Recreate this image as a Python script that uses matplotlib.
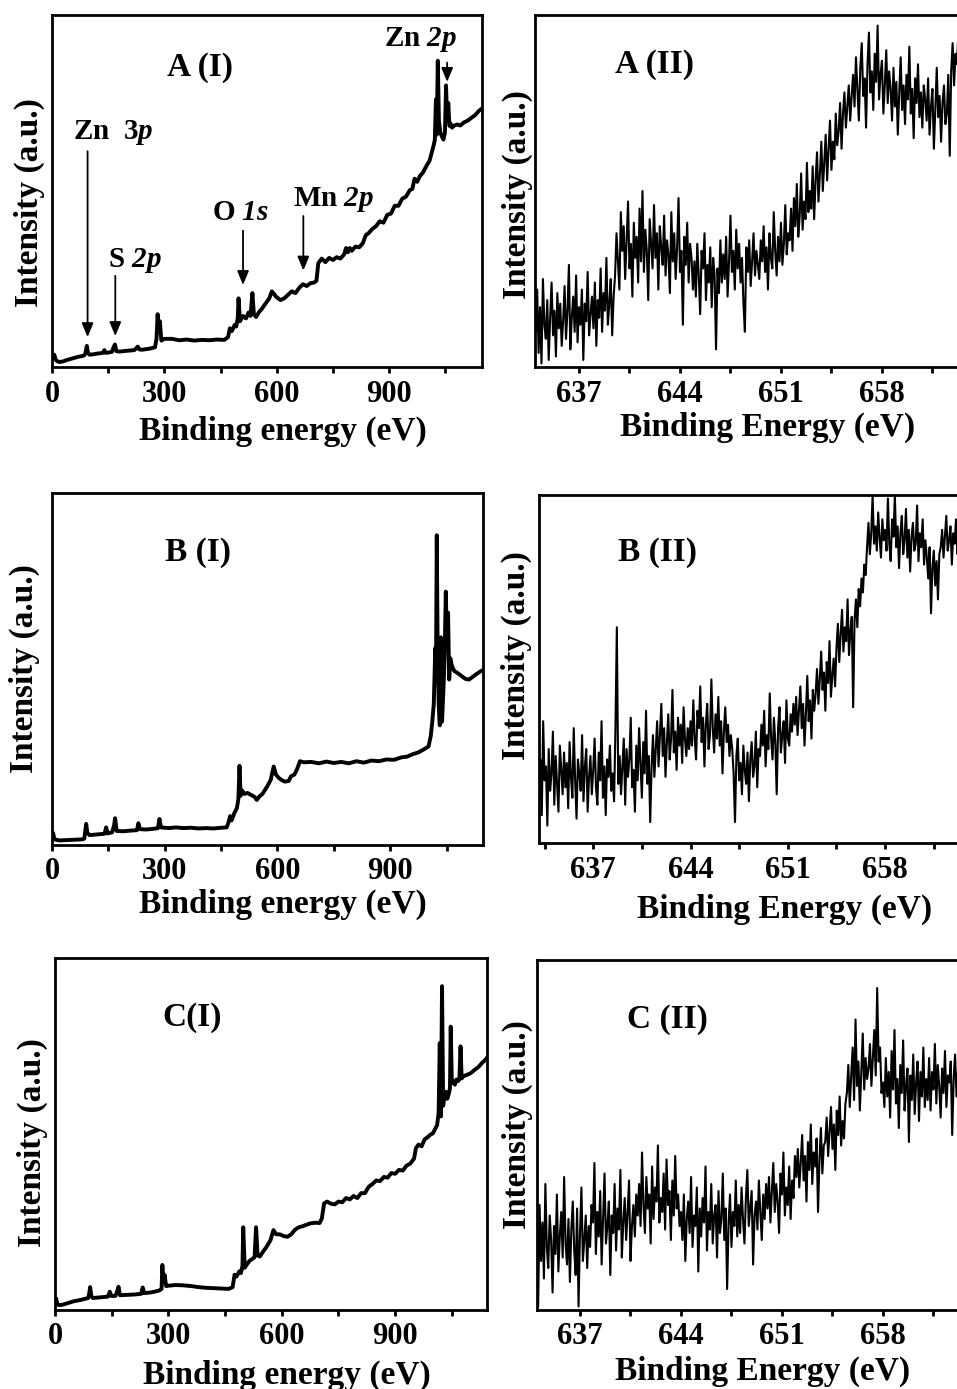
"""
XPS survey spectra (I) and Mn 2p region (II) for three samples
"""
import numpy as np
import matplotlib
matplotlib.use('Agg')
import matplotlib.pyplot as plt
from matplotlib.ticker import MultipleLocator, NullLocator

plt.rcParams['font.family'] = 'Liberation Serif'
plt.rcParams['font.weight'] = 'bold'
plt.rcParams['axes.labelweight'] = 'bold'
plt.rcParams['mathtext.fontset'] = 'custom'
plt.rcParams['mathtext.rm'] = 'Liberation Serif:bold:italic'
plt.rcParams['mathtext.it'] = 'Liberation Serif:bold:italic'

# ---- survey spectra (binding energy in eV, intensity in a.u.) ----
survey_a_ev = [0, 3, 6, 10, 15, 20, 30, 40, 50, 60, 70, 80, 86, 89, 93, 96, 100,
               110, 120, 135, 140, 143, 150, 160, 164, 168, 172, 180, 200, 220,
               229, 233, 240, 260, 275, 279, 282, 285, 288, 292, 300, 320, 340,
               360, 380, 400, 420, 440, 460, 470, 475, 480, 488, 492, 496, 498,
               502, 510, 518, 525, 530, 535, 539, 545, 552, 560, 570, 580, 587,
               591, 598, 610, 620, 630, 640, 650, 660, 670, 680, 690, 700, 706,
               711, 720, 730, 740, 750, 760, 770, 780, 785, 790, 795, 800, 810,
               820, 830, 838, 845, 855, 865, 875, 885, 895, 905, 915, 925, 935,
               945, 955, 962, 968, 975, 982, 990, 1000, 1008, 1014, 1019, 1022,
               1025, 1027, 1030, 1033, 1037, 1041, 1045, 1049, 1052, 1055, 1058,
               1061, 1064, 1068, 1074, 1082, 1090, 1100, 1110, 1120, 1130, 1140,
               1150]
survey_a_int = [3.0, 2.5, 3.5, 2.0, 1.6, 1.4, 1.6, 2.0, 2.3, 2.6, 2.9, 3.1, 3.3,
                3.8, 6.0, 4.0, 3.5, 3.6, 3.8, 4.0, 4.8, 4.0, 4.1, 4.3, 5.5, 6.4,
                4.5, 4.4, 4.6, 4.8, 5.8, 5.0, 4.9, 5.2, 5.6, 8.0, 15.0, 10.0,
                13.0, 7.5, 8.0, 8.0, 7.6, 7.8, 7.5, 7.7, 7.6, 7.8, 7.7, 8.5,
                11.0, 10.2, 12.0, 11.5, 14.0, 19.5, 13.0, 14.5, 13.8, 15.5, 14.5,
                21.0, 15.0, 14.2, 15.5, 16.5, 18.0, 19.5, 21.5, 21.0, 20.0, 19.0,
                19.5, 20.5, 21.5, 21.0, 22.5, 23.5, 23.0, 23.8, 24.0, 24.5, 29.5,
                30.8, 29.8, 31.0, 30.4, 31.2, 30.8, 32.0, 33.8, 32.6, 33.8, 33.0,
                34.2, 34.0, 35.2, 37.5, 38.0, 39.2, 40.0, 41.4, 41.0, 43.2, 43.6,
                45.8, 45.8, 47.8, 48.4, 50.2, 50.6, 53.5, 52.6, 54.2, 55.2, 57.2,
                58.6, 61.0, 63.0, 64.5, 76.0, 66.0, 87.0, 70.0, 66.5, 65.5, 64.6,
                66.5, 80.0, 70.0, 75.0, 68.5, 69.2, 68.0, 68.6, 68.9, 68.6, 69.5,
                70.0, 70.8, 71.6, 72.8, 73.6]

survey_b_ev = [0, 3, 6, 10, 20, 40, 60, 80, 86, 88, 91, 94, 100, 120, 140, 144,
               148, 160, 165, 168, 172, 190, 210, 226, 230, 234, 250, 270, 282,
               286, 290, 310, 330, 350, 370, 390, 410, 430, 450, 465, 470, 474,
               478, 485, 492, 496, 499, 502, 506, 512, 520, 530, 540, 545, 552,
               560, 572, 582, 590, 596, 604, 612, 620, 630, 636, 645, 652, 660,
               670, 690, 710, 730, 750, 770, 790, 810, 830, 850, 870, 890, 910,
               930, 945, 960, 975, 990, 1002, 1008, 1012, 1016, 1018, 1020, 1022,
               1024, 1026, 1029, 1032, 1035, 1038, 1042, 1045, 1048, 1051, 1054,
               1057, 1060, 1064, 1070, 1080, 1090, 1100, 1110, 1120, 1130, 1140,
               1150]
survey_b_int = [2.5, 3.4, 1.8, 1.5, 1.3, 1.4, 1.5, 1.6, 1.8, 3.5, 6.0, 3.5, 2.8,
                3.0, 3.2, 5.0, 3.3, 3.6, 5.5, 7.6, 4.0, 3.9, 4.1, 4.2, 6.2, 4.5,
                4.4, 4.6, 4.8, 7.4, 5.0, 4.8, 5.0, 4.8, 4.9, 4.7, 4.8, 4.7, 4.9,
                5.0, 6.5, 8.2, 7.0, 9.0, 10.5, 13.0, 22.5, 14.0, 15.5, 14.5, 14.8,
                14.2, 13.6, 12.8, 13.8, 14.5, 16.5, 18.5, 22.3, 20.0, 19.0, 18.4,
                18.0, 18.2, 19.5, 20.0, 21.5, 23.8, 23.5, 23.6, 23.2, 23.7, 23.3,
                23.6, 23.2, 23.8, 23.4, 24.0, 23.8, 24.3, 24.2, 24.9, 25.1, 25.8,
                26.3, 27.2, 28.0, 31.0, 35.0, 40.0, 48.0, 56.0, 52.0, 88.0, 60.0,
                40.0, 34.0, 59.0, 35.0, 45.0, 54.0, 72.0, 58.0, 66.0, 47.0, 53.0,
                51.0, 49.5, 48.8, 48.0, 47.2, 47.0, 47.8, 48.6, 49.3, 49.8]

survey_c_ev = [0, 3, 6, 10, 20, 35, 50, 65, 80, 88, 91, 93, 96, 100, 120, 140,
               145, 149, 160, 165, 168, 172, 190, 210, 228, 232, 236, 255, 275,
               282, 284, 287, 290, 294, 300, 320, 340, 360, 380, 400, 420, 440,
               460, 470, 475, 480, 488, 492, 496, 498, 502, 508, 515, 522, 528,
               532, 536, 542, 550, 560, 570, 578, 585, 595, 605, 615, 625, 635,
               645, 655, 665, 675, 690, 700, 706, 712, 720, 730, 740, 750, 760,
               770, 780, 790, 800, 810, 820, 830, 840, 850, 860, 870, 880, 890,
               900, 910, 920, 930, 940, 950, 955, 962, 970, 978, 985, 993, 1000,
               1006, 1011, 1015, 1018, 1021, 1024, 1027, 1030, 1034, 1038, 1042,
               1045, 1047, 1050, 1054, 1058, 1062, 1066, 1070, 1073, 1076, 1080,
               1090, 1100, 1110, 1120, 1130, 1140, 1145]
survey_c_int = [3.0, 3.3, 1.6, 1.4, 1.5, 2.0, 2.5, 2.8, 3.2, 3.4, 5.0, 6.5, 4.0,
                3.4, 3.6, 3.8, 5.2, 4.0, 4.0, 5.5, 6.6, 4.2, 4.3, 4.4, 4.6, 6.4,
                4.8, 5.0, 5.5, 6.0, 12.8, 8.0, 10.0, 6.8, 6.9, 7.1, 7.0, 6.8,
                6.5, 6.3, 6.2, 6.1, 6.0, 6.5, 10.0, 9.5, 11.0, 10.5, 12.5, 23.5,
                12.0, 13.0, 14.0, 14.5, 15.0, 23.5, 15.5, 15.2, 16.5, 18.0, 19.8,
                22.7, 21.5, 21.5, 21.0, 20.8, 21.5, 22.8, 23.5, 23.8, 24.2, 24.6,
                24.8, 24.7, 26.0, 30.3, 30.8, 30.2, 30.0, 30.8, 30.6, 31.8, 31.4,
                32.4, 31.8, 33.2, 33.2, 35.0, 35.8, 36.8, 36.6, 37.8, 37.6, 38.9,
                38.7, 39.8, 39.6, 41.0, 41.6, 43.0, 46.0, 47.0, 46.5, 48.5, 49.0,
                49.8, 50.2, 51.5, 52.5, 56.0, 75.8, 55.0, 92.0, 58.0, 60.5, 62.0,
                60.0, 61.5, 63.0, 80.5, 64.5, 65.0, 64.0, 65.5, 65.0, 65.5, 74.9,
                65.8, 66.4, 66.8, 67.3, 68.2, 69.0, 70.2, 71.2, 72.0]

# ---- Mn 2p region, 0.1 eV steps ----
mn_step = 0.1
mn_a_start = 634.0
mn_a_int = [10, 22, 4, 17, 1, 25, 12, 8, 19, 2, 14, 24, 9, 16, 3, 21, 11, 18, 6, 13,
            23, 8, 16, 29, 5, 14, 20, 10, 26, 7, 17, 12, 22, 2, 18, 13, 27, 9, 15, 20,
            11, 24, 6, 19, 14, 28, 10, 21, 16, 31, 12, 18, 25, 9, 20,
            26, 38, 30, 22, 44, 33, 40, 25, 36, 47, 28, 35, 20, 41, 31,
            37, 24, 45, 30, 50, 27, 39, 33, 19, 42, 35, 28, 46, 31, 38, 22, 40, 34, 29, 43,
            26, 36, 32, 21, 44, 30, 38, 25, 34, 48, 27, 33, 12, 37, 29, 41, 24, 35, 31, 22,
            30, 20, 35, 26, 15, 33, 28, 38, 19, 29, 24, 34, 17, 31, 26, 5, 28, 21, 36, 24,
            32, 25, 37, 20, 30, 43, 27, 33, 22, 39, 28, 35, 24, 31, 18, 10, 34, 27, 36, 23,
            30, 38, 26, 33, 29,
            25, 36, 30, 40, 27, 34, 22, 38, 31, 28, 44, 33, 26, 37, 30, 41, 29, 35, 46, 32, 38,
            36, 45, 33, 48, 40, 52, 37, 43, 55, 39, 47, 42, 58, 44,
            50, 45, 57, 42, 53, 61, 47, 55, 64, 50,
            58, 66, 53, 62, 70, 56, 64, 59, 72, 63,
            67, 75, 62, 72, 78, 68, 74, 80, 70, 77,
            83, 74, 88, 79, 70, 85, 92, 77, 82, 68, 86, 95, 78, 84, 73, 89, 81, 97, 76, 83,
            87, 72, 80, 90, 75, 84,
            79, 70, 85, 74, 81, 66, 78, 88, 73, 80, 69, 83, 76, 91, 72, 79, 65, 82, 75, 86,
            71, 78, 68, 80,
            76, 70, 82, 66, 74, 79, 62, 73, 85, 71, 77, 64, 75, 80, 69, 72, 83, 60,
            84, 92, 80, 89, 86, 95, 82, 88, 91, 79, 87, 90, 85]

mn_b_start = 633.0
mn_b_int = [30, 12, 24, 8, 35, 18, 22, 5, 27, 15, 20, 32, 11, 25, 17, 9, 28, 21, 14, 26,
            16, 23, 10, 29, 19, 13, 33, 18, 7, 24, 20, 15, 31, 12, 22, 27, 9, 19, 25, 14,
            21, 30, 16, 11, 26, 18, 35, 13, 22, 8, 24, 19, 28, 15, 20, 12, 33, 62, 17, 25,
            14, 22, 30, 11, 27, 19, 24, 36, 16, 21, 9, 28, 18, 33, 23, 13, 29, 20, 38, 17,
            25, 6, 22, 31, 19,
            27, 35, 22, 31, 40, 25, 33, 19, 29, 37, 24, 30, 44, 26, 32, 21, 36, 28, 34, 23,
            39, 30, 25, 33, 27,
            35, 28, 41, 30, 24, 38, 33, 45, 29, 36, 22, 34, 40, 27, 31, 47, 33, 26, 37, 30,
            42, 28, 35, 20, 32, 39, 29, 34, 25, 31,
            27, 20, 6, 25, 30, 18, 23, 14, 28, 21, 17, 26, 12, 24, 29, 19, 22, 32, 16, 27,
            25, 34, 28, 38, 22, 31, 27, 43, 30, 24, 36, 29, 14, 33, 39, 26, 31, 35, 23, 41,
            30, 28, 37, 32, 40,
            34, 42, 31, 38, 45, 33, 40, 28, 37, 48, 35, 41, 30, 44, 38,
            43, 50, 40, 47, 55, 44, 49, 38, 52, 46, 58, 42, 48, 53, 45,
            56, 63, 52, 60, 67, 55, 62, 58, 70, 54, 61, 65, 39,
            64, 70, 62, 73, 68, 76, 72, 80, 77,
            85, 92, 83, 89, 100, 86, 91, 84, 95, 88, 82, 93, 87,
            90, 84, 99, 86, 81, 93, 88, 100, 85, 91, 79, 89, 94, 83, 87, 96, 82, 90, 78, 88,
            92, 84, 86, 97, 81, 89, 85, 93, 80, 87,
            82, 76, 85, 66, 79, 84, 74, 81, 70, 83,
            85, 90, 82, 88, 94, 84, 87, 91, 80, 89, 86, 93, 83, 88, 90, 85, 92, 84, 87, 89, 86]

mn_c_start = 634.0
mn_c_int = [22, 1, 30, 14, 25, 9, 36, 18, 12, 27, 20, 5, 24, 16, 33, 11, 21, 28, 15, 38,
            19, 13, 26, 8, 23, 31, 17, 10, 29, 1, 22, 35, 14, 20, 27, 12, 24,
            18, 30, 25, 42, 16, 28, 21, 34, 13, 26, 39, 19, 24, 31, 10, 27, 22, 36, 17, 29,
            23, 40, 15, 25, 32, 20, 28, 37, 14, 24, 30, 21, 33,
            27, 36, 24, 45, 30, 22, 38, 29, 33, 19, 41, 26, 35, 31, 47, 25, 32, 28, 39, 23,
            43, 30, 34, 20, 37, 27, 44, 29, 33, 24,
            28, 20, 33, 14, 26, 31, 22, 38, 18, 27, 24, 35, 11, 29, 21, 32, 25, 41, 17, 28,
            23, 36, 19, 27, 30, 15, 34, 22, 26, 39, 20, 29, 6, 25, 33, 18, 28, 24, 37, 21,
            30, 22, 35, 26, 19, 32, 40, 24, 29, 34, 13, 27, 31, 23, 37, 28, 20, 33, 26, 36,
            29, 38, 25, 34, 42, 28, 36, 31, 22, 39, 33, 45, 27, 35, 30, 41, 26, 37, 32, 44,
            38, 46, 35, 42, 50, 37, 44, 31, 48, 40, 53, 36, 45, 41, 49, 28, 43, 52, 39, 47,
            48, 55, 44, 51, 58, 46, 53, 40, 57, 50, 61, 47, 54, 49, 59,
            62, 70, 58, 67, 75, 60, 83, 64, 71, 57, 68, 79, 63, 72, 66,
            69, 76, 64, 72, 80, 67, 92, 71, 75, 62,
            65, 58, 72, 61, 68, 55, 74, 63, 80, 59, 66, 52, 70, 62, 77, 57, 64, 69, 48, 67,
            60, 73, 56, 65, 71, 54, 68, 61, 75, 58,
            66, 60, 72, 57, 68, 63, 76, 59, 70, 64, 55, 69, 62, 74, 58, 67, 65, 71, 50, 66,
            73, 61, 68, 63, 70, 60, 67, 72, 64, 69, 62]

# peak markers on the first survey
peak_labels = ['Zn  3$p$', 'S $2p$', 'O $1s$', 'Mn $2p$', 'Zn $2p$']
peak_label_xy = [(163, 66.5), (222, 30.2), (502, 43.9), (751, 47.6), (983, 93.0)]
# arrow x, arrow tail y, arrow tip y
peak_arrows = [(95, 61.3, 8.5), (169, 25.9, 8.8), (510, 38.7, 23.3),
               (671, 42.9, 27.4), (1055, 86.5, 81.0)]

W, H = 957, 1389
fig = plt.figure(figsize=(W / 100, H / 100), dpi=100)


def px_axes(left, top, right, bottom):
    return fig.add_axes([left / W, 1 - bottom / H, (right - left) / W, (bottom - top) / H])


def style(ax, major, minor):
    for s in ax.spines.values():
        s.set_linewidth(2)
    ax.xaxis.set_major_locator(MultipleLocator(major))
    ax.xaxis.set_minor_locator(MultipleLocator(minor))
    ax.yaxis.set_major_locator(NullLocator())
    ax.tick_params(axis='x', which='both', direction='out', length=4, width=2,
                   labelsize=22, pad=5)
    ax.set_ylim(0, 100)


def add_labels(ax, xlabel, label, label_pos, xlab_pos, ylab_pos):
    ax.text(label_pos[0], label_pos[1], label, transform=ax.transAxes,
            fontsize=24, ha='center', va='center')
    ax.set_xlabel(xlabel, fontsize=24, va='center')
    ax.xaxis.set_label_coords(*xlab_pos)
    ax.set_ylabel('Intensity (a.u.)', fontsize=24, va='center')
    ax.yaxis.set_label_coords(*ylab_pos)


def survey_panel(box, ev, inten, xmax, label, label_pos, xlab_pos, ylab_pos):
    ax = px_axes(*box)
    ax.plot(ev, inten, color='k', lw=2.8)
    style(ax, 300, 150)
    ax.set_xlim(0, xmax)
    add_labels(ax, 'Binding energy (eV)', label, label_pos, xlab_pos, ylab_pos)
    return ax


def mn_panel(box, start, inten, xlim, label, label_pos, xlab_pos, ylab_pos):
    ax = px_axes(*box)
    ev = start + mn_step * np.arange(len(inten))
    ax.plot(ev, inten, color='k', lw=1.5)
    style(ax, 7, 3.5)
    ax.set_xlim(*xlim)
    add_labels(ax, 'Binding Energy (eV)', label, label_pos, xlab_pos, ylab_pos)
    return ax


ax_a = survey_panel((52, 15, 482, 367), survey_a_ev, survey_a_int, 1148, 'A (I)',
                    (0.344, 0.85), (0.537, -0.182), (-0.053, 0.466))
for text, (tx, ty), (axx, y0, y1) in zip(peak_labels, peak_label_xy, peak_arrows):
    ax_a.text(tx, ty, text, fontsize=21, ha='center', va='center')
    ax_a.annotate('', xy=(axx, y1), xytext=(axx, y0),
                  arrowprops=dict(arrowstyle='-|>,head_length=0.6,head_width=0.25',
                                  color='k', lw=1.3, mutation_scale=14,
                                  shrinkA=0, shrinkB=0))

survey_panel((52, 493, 483, 845), survey_b_ev, survey_b_int, 1147, 'B (I)',
             (0.339, 0.832), (0.536, -0.168), (-0.065, 0.5))
survey_panel((55, 958, 487, 1310), survey_c_ev, survey_c_int, 1143, 'C(I)',
             (0.317, 0.83), (0.537, -0.186), (-0.053, 0.477))

# right-hand panels run past the figure edge, as in the original
mn_panel((535, 15, 962, 367), mn_a_start, mn_a_int, (633.95, 663.55), 'A (II)',
         (0.28, 0.858), (0.545, -0.172), (-0.042, 0.489))
mn_panel((539, 495, 962, 843), mn_b_start, mn_b_int, (633.1, 663.53), 'B (II)',
         (0.28, 0.836), (0.58, -0.19), (-0.054, 0.54))
mn_panel((537, 960, 962, 1310), mn_c_start, mn_c_int, (634.02, 663.48), 'C (II)',
         (0.306, 0.829), (0.53, -0.176), (-0.045, 0.53))

fig.savefig('out.png', dpi=100)
